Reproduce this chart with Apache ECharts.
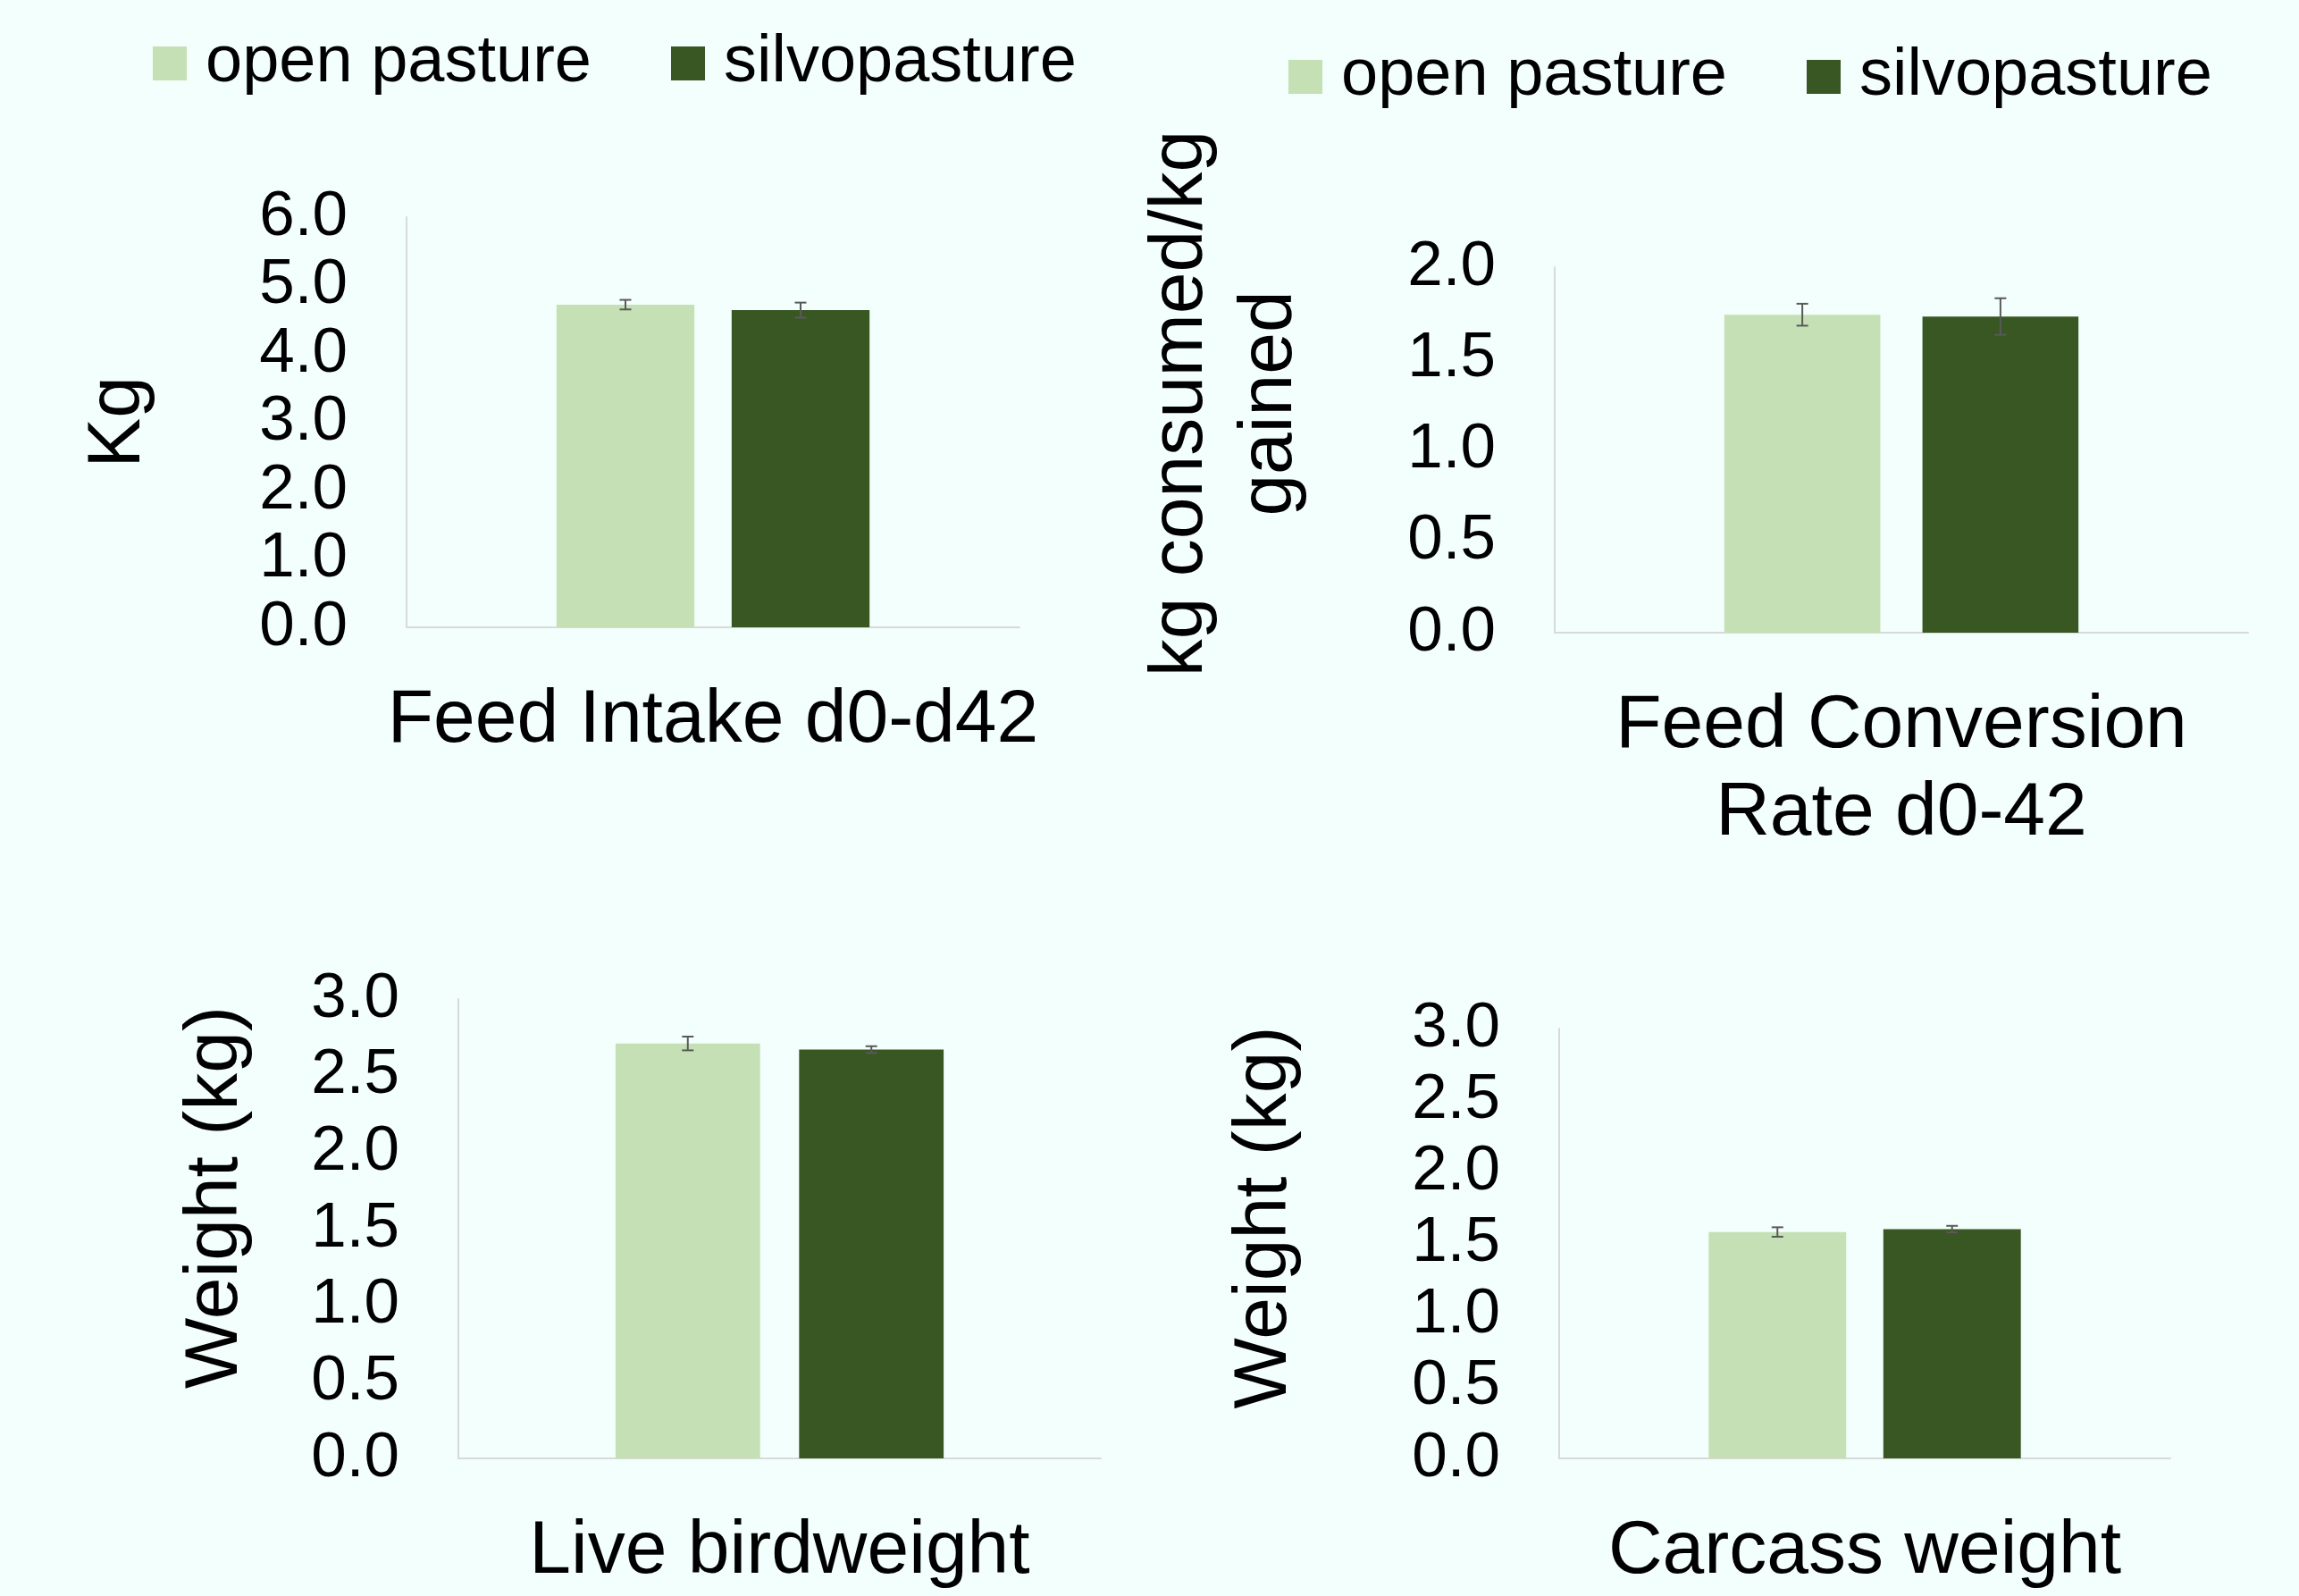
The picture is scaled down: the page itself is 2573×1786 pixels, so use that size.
<!DOCTYPE html>
<html>
<head>
<meta charset="utf-8">
<script src="https://cdn.jsdelivr.net/npm/echarts@6/dist/echarts.min.js"></script>
<style>
  html, body { margin: 0; padding: 0; background: #f3fffc; }
  #chart { width: 2573px; height: 1786px; }
</style>
</head>
<body>
<div id="chart"></div>
<script>
// Poultry performance, open pasture vs silvopasture (means with error bars)
const seriesNames = ['open pasture', 'silvopasture']
const panelCategories = ['Feed Intake d0-d42', 'Feed Conversion\nRate d0-42', 'Live birdweight', 'Carcass weight']
const openMeans = [4.72, 1.74, 2.71, 1.58]
const silvoMeans = [4.64, 1.73, 2.67, 1.60]
const openErr = [0.07, 0.06, 0.045, 0.033]
const silvoErr = [0.11, 0.10, 0.022, 0.023]
const yMax = [6, 2, 3, 3]
const yInterval = [1, 0.5, 0.5, 0.5]
const yNames = ['Kg', 'kg consumed/kg\ngained', 'Weight (kg)', 'Weight (kg)']

// layout of the four panels
const grids = [
  { left : 455, top : 243, width : 686, height : 459 },
  { left : 1740, top : 299, width : 776, height : 409 },
  { left : 513, top : 1118, width : 719, height : 518 },
  { left : 1745, top : 1151, width : 684, height : 489 }
]
const nameGaps = [272, 268, 221, 279]
const nameShift = [0, 52, 35, 29]

const colors = ['#c5e0b4', '#385723']
const FONT = '"Liberation Sans", Arial, sans-serif'
const BAR_W = 0.225
const BAR_GAP = 0.27

const chart = echarts.init( document.getElementById( 'chart' ) )

const xAxes = grids.map( ( g, i ) => ( {
  type : 'category',
  gridIndex : i,
  data : [panelCategories[i]],
  axisLine : { show : true, lineStyle : { color : '#d9d9d9', width : 2 } },
  axisTick : { show : false },
  axisLabel : { color : '#000', fontSize : 84, margin : 56, lineHeight : 98, fontFamily : FONT }
} ) )

const yAxes = grids.map( ( g, i ) => ( {
  type : 'value',
  gridIndex : i,
  min : 0,
  max : yMax[i],
  interval : yInterval[i],
  axisLine : { show : true, lineStyle : { color : '#d9d9d9', width : 2 } },
  axisTick : { show : false },
  splitLine : { show : false },
  axisLabel : {
    color : '#000',
    fontSize : 71,
    margin : 66,
    fontFamily : FONT,
    formatter : v => v.toFixed( 1 )
  },
  name : yNames[i],
  nameLocation : 'middle',
  nameGap : nameGaps[i],
  nameTextStyle : {
    color : '#000',
    fontSize : 84,
    lineHeight : 100,
    fontFamily : FONT,
    padding : [0, 0, 0, nameShift[i] * 2]
  }
} ) )

const series = []
grids.forEach( ( g, i ) => {
  series.push( {
    name : seriesNames[0],
    type : 'bar',
    xAxisIndex : i,
    yAxisIndex : i,
    barWidth : BAR_W * 100 + '%',
    barGap : BAR_GAP * 100 + '%',
    itemStyle : { color : colors[0] },
    data : [openMeans[i]]
  } )
  series.push( {
    name : seriesNames[1],
    type : 'bar',
    xAxisIndex : i,
    yAxisIndex : i,
    barWidth : BAR_W * 100 + '%',
    barGap : BAR_GAP * 100 + '%',
    itemStyle : { color : colors[1] },
    data : [silvoMeans[i]]
  } )
  // error bars drawn on top of the two bars
  series.push( {
    name : 'error ' + i,
    type : 'custom',
    xAxisIndex : i,
    yAxisIndex : i,
    z : 5,
    encode : { x : 0, y : 1 },
    renderItem : ( params, api ) => {
      const mean = api.value( 1 )
      const err = api.value( 2 )
      const side = api.value( 3 ) === 0 ? -1 : 1
      const band = api.size( [1, 0] )[0]
      const x = api.coord( [0, mean] )[0] + side * band * BAR_W * ( 1 + BAR_GAP ) / 2
      const top = api.coord( [0, mean + err] )[1]
      const bottom = api.coord( [0, mean - err] )[1]
      const style = { stroke : '#595959', lineWidth : 2 }
      return {
        type : 'group',
        children : [
          { type : 'line', shape : { x1 : x, y1 : top, x2 : x, y2 : bottom }, style },
          { type : 'line', shape : { x1 : x - 6.5, y1 : top, x2 : x + 6.5, y2 : top }, style },
          { type : 'line', shape : { x1 : x - 6.5, y1 : bottom, x2 : x + 6.5, y2 : bottom }, style }
        ]
      }
    },
    data : [[0, openMeans[i], openErr[i], 0], [0, silvoMeans[i], silvoErr[i], 1]]
  } )
} )

const legendBase = {
  data : seriesNames,
  icon : 'rect',
  itemWidth : 38,
  itemHeight : 38,
  itemGap : 89,
  padding : 0,
  textStyle : { color : '#000', fontSize : 74, fontFamily : FONT, padding : [0, 0, 0, 16] }
}

chart.setOption( {
  backgroundColor : '#f3fffc',
  animation : false,
  textStyle : { fontFamily : FONT },
  legend : [
    Object.assign( {}, legendBase, { left : 171, top : 34 } ),
    Object.assign( {}, legendBase, { left : 1442, top : 49 } )
  ],
  grid : grids,
  xAxis : xAxes,
  yAxis : yAxes,
  series
} )
</script>
</body>
</html>
